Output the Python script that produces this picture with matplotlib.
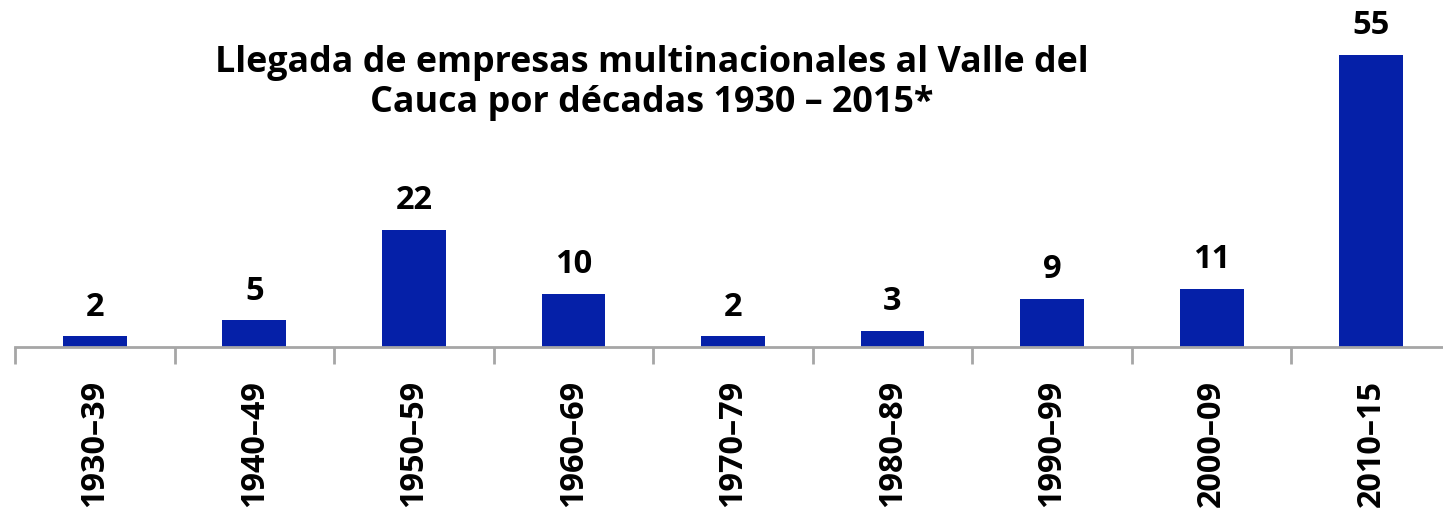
import numpy as np
import matplotlib.pyplot as plt

# Multinational companies arriving in Valle del Cauca, per decade
decadas = ["1930–39", "1940–49", "1950–59", "1960–69", "1970–79",
           "1980–89", "1990–99", "2000–09", "2010–15"]
empresas = [2, 5, 22, 10, 2, 3, 9, 11, 55]

azul = "#0520A8"
gris = "#A6A6A6"

fig = plt.figure(figsize=(14.43, 5.10), dpi=100)
ax = fig.add_axes([15 / 1443, 162 / 510, 1436 / 1443, 318.6 / 510])

x = np.arange(len(decadas))
ax.bar(x, empresas, width=0.4, color=azul, zorder=2)

for xi, v in zip(x, empresas):
    ax.text(xi, v + 2.6, str(v), ha="center", va="bottom", fontsize=23.5,
            fontweight="bold", family="Open Sans", clip_on=False)

ax.set_xlim(-0.5, len(decadas) - 0.5)
ax.set_ylim(0, 60)

for s in ["top", "right", "left"]:
    ax.spines[s].set_visible(False)
ax.spines["bottom"].set_color(gris)
ax.spines["bottom"].set_linewidth(2)
ax.set_yticks([])

# ticks between categories, labels centred under bars
ax.set_xticks(np.arange(len(decadas) + 1) - 0.5)
ax.set_xticklabels([])
ax.tick_params(axis="x", which="major", length=12, width=2, color=gris)
ax.set_xticks(x, minor=True)
ax.set_xticklabels(decadas, minor=True, rotation=90, fontsize=23.3,
                   fontweight="bold", family="Open Sans")
ax.tick_params(axis="x", which="minor", length=0, pad=23)

fig.text(652 / 1443, 1 - 83 / 510,
         "Llegada de empresas multinacionales al Valle del\nCauca por décadas 1930 – 2015*",
         ha="center", va="center", fontsize=25.8, fontweight="bold",
         family="Open Sans", linespacing=1.12)

fig.savefig("out.png", dpi=100)
